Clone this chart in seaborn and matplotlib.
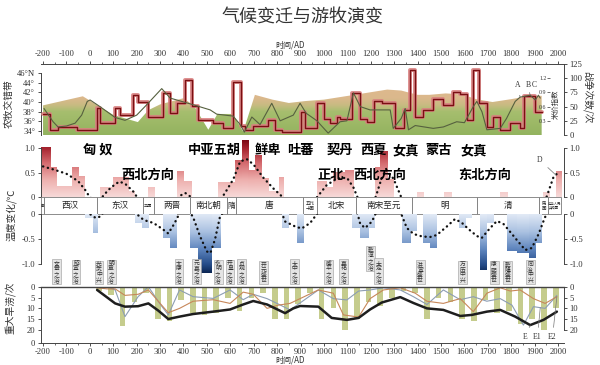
import numpy as np
import pandas as pd
import matplotlib
matplotlib.use("Agg")
import matplotlib.pyplot as plt
import seaborn as sns
from matplotlib import transforms
from matplotlib.colors import LinearSegmentedColormap

sns.set_theme(style="white")
plt.rcParams['font.family'] = ['Noto Sans CJK SC', 'DejaVu Sans']
plt.rcParams['axes.unicode_minus'] = False

# ---------------- data ----------------
# top panel: agro-pastoral belt (latitude envelope)
area_year = [-200, -30, 100, 205, 250, 300, 400, 445, 506, 545, 610, 655, 705, 780, 850, 920,
             1000, 1130, 1270, 1330, 1400, 1450, 1520, 1590, 1650, 1720, 1800, 1870, 1930]
area_lat = [39.3, 41.2, 37.3, 35.8, 38.3, 39.5, 40.8, 39.2, 34.2, 37.5, 37.5, 33.8, 41.5, 40.5, 39.8, 40.2,
            40.5, 41.5, 42.6, 42.4, 41.5, 41.5, 41.8, 41.6, 40.6, 40.0, 40.6, 41.2, 41.3]
lat_ticks = [34, 36, 38, 40, 42, 44, 46]
lat_labels = ['34°', '36°', '38°', '40°', '42°', '44°', '46°N']

# wars (step series)
war_start = [-200, -170, -136, -55, 31, 43, 108, 130, 185, 206, 250, 313, 343, 372, 407, 436, 462, 527, 570, 612,
             645, 663, 697, 762, 791, 820, 900, 918, 970, 1001, 1027, 1055, 1069, 1119, 1155, 1183, 1212, 1247, 1304, 1340,
             1368, 1390, 1424, 1467, 1510, 1553, 1582, 1610, 1638, 1662, 1696, 1724, 1753, 1796, 1838, 1856, 1903]
war_val = [37, 8, 14, 8, 48, 22, 47, 35, 70, 58, 32, 74, 39, 56, 97, 51, 26, 21, 12, 93,
           15, 9, 15, 26, 9, 6, 40, 12, 56, 29, 21, 32, 28, 74, 29, 23, 60, 56, 12, 44,
           114, 32, 44, 63, 53, 76, 73, 26, 114, 56, 14, 31, 9, 22, 12, 68, 40]
war_end = 1930
war_ticks = [0, 25, 50, 75, 100, 125]

# rice price index
rice_year = [-196, -157, -136, -100, -63, -35, -11, 1, 43, 108, 150, 200, 243, 307, 343, 441, 514, 542, 612, 642,
             660, 692, 727, 777, 813, 869, 898, 924, 970, 1018, 1069, 1098, 1126, 1155, 1197, 1283, 1296, 1330, 1347, 1361,
             1390, 1467, 1510, 1567, 1600, 1638, 1653, 1675, 1696, 1753, 1780, 1817, 1838, 1881, 1903, 1916, 1924]
rice_idx = [0.56, 0.28, 0.17, 0.19, 0.25, 0.42, 0.71, 0.74, 0.60, 0.37, 0.31, 0.42, 0.64, 0.98, 0.78, 0.64, 0.53, 0.44, 0.40, 0.22,
            0.06, 0.38, 0.22, 0.67, 0.30, 0.42, 0.67, 0.46, 0.30, 0.04, 0.28, 0.30, 0.89, 0.60, 0.53, 0.53, 0.14, 0.35, 0.56, 0.11,
            0.20, 0.14, 0.17, 0.28, 0.26, 0.60, 0.71, 0.49, 0.11, 0.14, 0.35, 0.71, 0.80, 0.84, 0.74, 0.84, 0.78]
rice_ticks = [0.3, 0.6, 0.9, 1.2]
abc_labels = ['A', 'B', 'C']
abc_years = [1838, 1881, 1916]

# middle panel: temperature anomaly bars
pos_start = [-210, -170, -141, -77, -50, 43, 100, 165, 250, 371, 400, 549, 620, 649, 677, 706, 735, 763, 806,
             970, 1012, 1040, 1090, 1219, 1240, 1271, 1397, 1514, 1753, 1937, 1992]
pos_end = [-170, -141, -77, -50, -21, 100, 165, 193, 279, 400, 435, 620, 649, 677, 706, 735, 763, 806, 827,
           1012, 1040, 1090, 1126, 1240, 1271, 1297, 1425, 1547, 1783, 1963, 2017]
pos_val = [1.0, 0.6, 0.22, 0.6, 0.42, 0.2, 0.4, 0.12, 0.2, 0.52, 0.32, 0.3, 0.75, 1.15, 0.55, 0.85, 0.38, 0.12, 0.4,
           0.32, 0.2, 0.49, 0.55, 0.6, 0.92, 0.35, 0.1, 0.1, 0.1, 0.1, 0.53]
neg_start = [-20, 15, 193, 222, 314, 343, 428, 464, 521, 820, 884, 1119, 1155, 1190, 1333, 1368, 1425, 1454,
             1575, 1603, 1667, 1696, 1782, 1824, 1874, 1903]
neg_end = [15, 36, 222, 250, 343, 371, 464, 521, 556, 848, 912, 1155, 1190, 1219, 1368, 1397, 1454, 1482,
           1603, 1632, 1696, 1724, 1824, 1874, 1903, 1931]
neg_val = [-0.09, -0.39, -0.18, -0.28, -0.48, -0.68, -0.68, -1.19, -0.68, -0.29, -0.59, -0.29, -0.49, -0.29, -0.59, -0.35,
           -0.59, -0.68, -0.29, -0.09, -1.12, -0.19, -0.75, -0.78, -0.89, -0.59]
# smoothed temperature curve
temp_year = [-200, -150, -100, -50, -20, 0, 25, 45, 60, 90, 125, 150, 185, 205, 230, 272, 310, 335, 360, 385,
             407, 428, 440, 471, 500, 515, 535, 556, 575, 613, 642, 670, 699, 741, 784, 820, 834, 877, 905, 941,
             970, 1012, 1055, 1098, 1126, 1145, 1155, 1176, 1205, 1222, 1247, 1265, 1297, 1326, 1354, 1383, 1420, 1454, 1482, 1525,
             1560, 1590, 1617, 1653, 1674, 1710, 1739, 1767, 1796, 1824, 1860, 1888, 1917, 1938, 1952, 1981, 2005]
temp_smooth = [0.63, 0.56, 0.48, 0.33, 0.15, 0.0, -0.08, -0.05, 0.05, 0.2, 0.32, 0.28, 0.12, -0.02, -0.12, -0.18, -0.3, -0.39, -0.2, 0.03,
               0.09, 0.02, -0.05, -0.45, -0.75, -0.78, -0.5, -0.05, 0.07, 0.37, 0.73, 0.78, 0.67, 0.4, 0.18, 0.02, -0.15, -0.25, -0.29, -0.18,
               0.0, 0.25, 0.38, 0.4, 0.2, -0.02, -0.2, -0.28, -0.15, 0.02, 0.4, 0.56, 0.38, 0.05, -0.28, -0.4, -0.45, -0.46, -0.42, -0.25,
               -0.1, -0.18, -0.3, -0.44, -0.48, -0.28, -0.14, -0.2, -0.36, -0.52, -0.72, -0.68, -0.4, -0.14, 0.02, 0.42, 0.52]
temp_ticks_up = [0, 0.5, 1.0]
temp_ticks_lo = [-1.0, -0.5, 0]

# dynasties strip
dyn_edges = [-210, -196, 30, 225, 272, 428, 585, 625, 910, 972, 1135, 1378, 1655, 1920, 1955, 2012]
dyn_names = ['秦', '西汉', '东汉', '三国', '两晋', '南北朝', '隋', '唐', '五代\n十国', '北宋', '南宋至元', '明', '清',
             '民\n国', '中华人民\n共和国']

# nomadic peoples / directions
nomad_names = ['匈 奴', '中亚五胡', '鲜卑', '吐蕃', '契丹', '西夏', '女真', '蒙古', '女真']
nomad_years = [33, 531, 761, 898, 1069, 1212, 1349, 1490, 1640]
dir_names = ['西北方向', '正北', '西北方向', '东北方向']
dir_years = [247, 1029, 1238, 1689]

# prosperous eras
era_names = ['文景之治', '昭宣之治', '光武中兴', '明章之治', '太康之治', '元嘉之治', '永明之治', '开皇之治', '贞观之治',
             '开元盛世', '大中之治', '咸平之治', '嘉祐之治', '乾淳之治', '大定之治', '洪宣盛世', '万历中兴', '康熙盛世',
             '乾隆盛世', '同治中兴']
era_years = [-141, -59, 39, 91, 381, 457, 548, 599, 649, 741, 873, 1019, 1083, 1200, 1233, 1411, 1593, 1727, 1783, 1881]

# bottom panel: major droughts / floods
drought_year = [40, 90, 140, 190, 240, 290, 340, 390, 440, 490, 540, 590, 640, 690, 740, 790, 840, 890, 940, 990,
                1040, 1090, 1140, 1190, 1240, 1290, 1340, 1390, 1440, 1490, 1540, 1590, 1640, 1690, 1740, 1790, 1840, 1890, 1940, 1990]
drought_val = [2, 4, 18, 7, 3, 15, 16, 6, 12, 13, 12, 5, 11, 5, 3, 15, 15, 8, 3, 15,
               10, 20, 15, 7, 9, 5, 2, 3, 15, 5, 7, 15, 16, 6, 12, 11, 17, 15, 20, 10]
blk_year = [31, 108, 150, 206, 250, 292, 335, 383, 441, 527, 599, 655, 698, 757, 834, 869, 898, 976, 1033, 1098,
            1148, 1197, 1247, 1326, 1382, 1440, 1510, 1582, 1632, 1696, 1753, 1817, 1881, 1938, 1995]
blk_val = [1.5, 7.7, 9.2, 9.0, 7.7, 11, 14.9, 13.8, 12.6, 11.5, 10.5, 8.2, 6.6, 8.2, 12.2, 10, 8.9, 9.2, 14.4, 15.3,
           14.4, 10.5, 7.3, 4.8, 7.5, 10, 10.7, 13.5, 13, 11.5, 10.7, 13.8, 17.7, 15.3, 11.5]
brn_year = [31, 73, 108, 150, 206, 250, 335, 383, 441, 527, 599, 655, 698, 757, 805, 855, 898, 976, 1040, 1083,
            1148, 1197, 1254, 1326, 1390, 1440, 1510, 1582, 1638, 1696, 1753, 1796, 1838, 1895, 1945, 1995]
brn_val = [0.5, 1, 1, 4, 3.5, 1.5, 12, 10, 6.7, 6, 7.7, 2.5, 3.5, 10, 8.5, 7.7, 5.5, 1.5, 3, 13,
           14, 5.5, 1.5, 0.5, 3, 6.7, 7.7, 5.5, 11.5, 3, 0.5, 2, 1.5, 5.5, 7.7, 4.6]
gb_year = [31, 73, 108, 150, 206, 250, 300, 335, 383, 441, 527, 599, 655, 698, 757, 805, 855, 898, 976, 1040,
           1098, 1148, 1197, 1254, 1326, 1382, 1440, 1510, 1582, 1638, 1696, 1753, 1803, 1852, 1895, 1945, 1995]
gb_val = [0.5, 0, 1.5, 13.8, 4.6, 0, 8, 13, 1.5, 4.6, 5.4, 1.5, 6, 3.5, 5.5, 8, 10.7, 7.5, 1.5, 5.5,
          6.1, 2, 1.5, 0.5, 1.5, 4.6, 8.2, 1.5, 6, 4.6, 6.7, 5.5, 8.5, 17.7, 9.2, 10, 4]
dr_ticks = [0, 5, 10, 15, 20]

year_ticks = list(range(-200, 2001, 100))

# ---------------- layout ----------------
W_PX, H_PX = 600, 365
fig = plt.figure(figsize=(6, 3.65), dpi=100)
fig.patch.set_facecolor('white')
XL = (-210, 2025)
AX_L, AX_R = 40.7, 563.9
NUM = 'Liberation Serif'
TC = '#333333'
SPC = '#444444'


def box(top, bottom):
    return [AX_L / W_PX, 1 - bottom / H_PX, (AX_R - AX_L) / W_PX, (bottom - top) / H_PX]


def ticks(ax, **kw):
    ax.tick_params(direction='out', length=2.5, width=0.6, colors=TC, labelsize=6.2,
                   labelfontfamily=NUM, pad=1.5, **kw)


def spines(ax, show):
    for k, s in ax.spines.items():
        s.set_visible(k in show)
        s.set_linewidth(0.7)
        s.set_color(SPC)


# ---- top panel ----
ax1 = fig.add_axes(box(64, 135))
Y1 = (33.1, 47.95)
poly = ax1.fill_between(area_year, Y1[0], area_lat, facecolor='none', edgecolor='none')
area_cmap = LinearSegmentedColormap.from_list(
    'area', [(0, '#93b35f'), (0.33, '#a6be6e'), (0.42, '#c8bb82'), (0.52, '#dbb88c'), (1, '#e3bd92')])
grad = np.linspace(Y1[0], Y1[1], 200).reshape(-1, 1)
im = ax1.imshow(grad, extent=[XL[0], XL[1], Y1[0], Y1[1]], origin='lower', aspect='auto',
                cmap=area_cmap, vmin=Y1[0], vmax=Y1[1], zorder=1, interpolation='bilinear')
im.set_clip_path(poly.get_paths()[0], transform=ax1.transData)
ax1.set_xlim(XL)
ax1.set_ylim(Y1)
ax1.xaxis.tick_top()
ax1.set_xticks(year_ticks)
ax1.set_xticks(list(range(-200, 2001, 50)), minor=True)
ax1.set_yticks(lat_ticks)
ax1.set_yticklabels(lat_labels)
ticks(ax1, top=True, bottom=False, left=True, right=False, labeltop=True, labelbottom=False)
ax1.tick_params(which='minor', top=True, bottom=False, length=1.5, width=0.5, colors=TC)
spines(ax1, ['left', 'top'])
ax1.spines['left'].set_bounds(Y1[0], 46)
ax1.set_facecolor('none')

axw = ax1.twinx()
axw.set_ylim(0, 125)
wx = war_start + [war_end]
wy = war_val + [war_val[-1]]
sns.lineplot(x=wx, y=wy, drawstyle='steps-post', color='#d98080', lw=2.8, ax=axw,
             estimator=None, sort=False, alpha=0.9)
sns.lineplot(x=wx, y=wy, drawstyle='steps-post', color='#7a0f12', lw=1.0, ax=axw,
             estimator=None, sort=False)
axw.set_yticks(war_ticks)
ticks(axw, right=True, labelright=True, left=False, labelleft=False)
spines(axw, ['right'])
axw.set_xlabel('')
axw.set_ylabel('')

axi = ax1.twinx()
axi.set_ylim(0, 1.5)
sns.lineplot(x=rice_year, y=rice_idx, color='#56603f', lw=0.8, ax=axi, estimator=None, sort=False)
axi.yaxis.tick_left()
spines(axi, [])
axi.spines['left'].set_position(('axes', 0.974))
axi.set_yticks(rice_ticks)
axi.tick_params(direction='out', length=2, width=0.5, colors=TC, labelsize=4.2,
                labelfontfamily=NUM, pad=0.8, left=True, labelleft=True, right=False, labelright=False)
axi.set_xlabel('')
axi.set_ylabel('')
axi.set_xlim(XL)
for lab, yr, dx in zip(abc_labels, abc_years, [-12, -10, -16]):
    yv = np.interp(yr, rice_year, rice_idx)
    axi.annotate(lab, xy=(yr, yv), xytext=(yr + dx, 1.05), textcoords='data', fontsize=5.5,
                 family=NUM, color=TC, ha='center', va='center',
                 arrowprops=dict(arrowstyle='-', color='#666', lw=0.5, shrinkA=2, shrinkB=0))

# ---- middle panel: positive ----
red_cmap = LinearSegmentedColormap.from_list(
    'red', [(0, '#f7d9d8'), (0.3, '#eeb0ae'), (0.6, '#d46a6e'), (0.85, '#a82631'), (1, '#7d0a16')])
blue_cmap = LinearSegmentedColormap.from_list(
    'blue', [(0, '#e2eaf6'), (0.3, '#aac1e1'), (0.6, '#5d84bd'), (0.85, '#264d8a'), (1, '#0b2552')])

ax2 = fig.add_axes(box(138, 197.3))
bars = ax2.bar(pos_start, pos_val, width=np.array(pos_end) - np.array(pos_start), align='edge',
               color='none', edgecolor='none')
for p in bars.patches:
    x0, w, h = p.get_x(), p.get_width(), p.get_height()
    g = np.linspace(0, h, 64).reshape(-1, 1)
    ax2.imshow(g, extent=[x0, x0 + w, 0, h], origin='lower', aspect='auto', cmap=red_cmap,
               vmin=0, vmax=1.15, zorder=1.5, interpolation='bilinear')
sns.lineplot(x=temp_year, y=temp_smooth, color='#111111', lw=1.7, ax=ax2, estimator=None, sort=False,
             linestyle=(0, (0.1, 2.0)), dash_capstyle='round', zorder=3)
ax2.set_xlim(XL)
ax2.set_ylim(0, 1.21)
ax2.set_xticks([])
ax2.set_yticks(temp_ticks_up)
ax2.set_yticklabels(['0', '0.5', '1.0'])
ticks(ax2, left=True, right=True, labelleft=True, labelright=True, bottom=False)
spines(ax2, ['left', 'right'])
ax2.spines['left'].set_bounds(0, 1.0)
ax2.spines['right'].set_bounds(0, 1.0)
ax2.set_xlabel('')
ax2.set_ylabel('')
ax2.set_facecolor('none')
for nm, yr in zip(nomad_names, nomad_years):
    ax2.text(yr, 0.965, nm, fontsize=9.5, fontweight='bold', ha='center', va='center', color='black',
             zorder=6, clip_on=False)
for nm, yr in zip(dir_names, dir_years):
    ax2.text(yr, 0.455, nm, fontsize=9.5, fontweight='bold', ha='center', va='center', color='black',
             zorder=6, clip_on=False)
ax2.annotate('D', xy=(1990, np.interp(1990, temp_year, temp_smooth)), xytext=(1922, 0.76),
             fontsize=5.5, family=NUM, color=TC, ha='center', va='center',
             arrowprops=dict(arrowstyle='-', color='#888', lw=0.6, shrinkA=2, shrinkB=0))

# ---- dynasty strip ----
ax3 = fig.add_axes(box(197.3, 214))
ax3.bar(dyn_edges[:-1], 1, width=np.diff(dyn_edges), align='edge', color='white',
        edgecolor='#7a7a7a', lw=0.6, clip_on=False)
ax3.set_xlim(XL)
ax3.set_ylim(0, 1)
ax3.axis('off')
small = {'秦': 2.5, '三国': 3.0, '五代\n十国': 3.2, '民\n国': 3.2, '中华人民\n共和国': 2.4, '隋': 5.5}
for nm, a, b in zip(dyn_names, dyn_edges[:-1], dyn_edges[1:]):
    ax3.text((a + b) / 2, 0.5, nm, fontsize=small.get(nm, 6.2), ha='center', va='center',
             color='#222', linespacing=1.0)

# ---- middle panel: negative ----
ax4 = fig.add_axes(box(214, 275))
nbars = ax4.bar(neg_start, neg_val, width=np.array(neg_end) - np.array(neg_start), align='edge',
                color='none', edgecolor='none')
for p in nbars.patches:
    x0, w, h = p.get_x(), p.get_width(), p.get_height()
    g = np.linspace(-h, 0, 64).reshape(-1, 1)
    ax4.imshow(g, extent=[x0, x0 + w, h, 0], origin='lower', aspect='auto', cmap=blue_cmap,
               vmin=0, vmax=1.2, zorder=1.5, interpolation='bilinear')
sns.lineplot(x=temp_year, y=temp_smooth, color='#111111', lw=1.7, ax=ax4, estimator=None, sort=False,
             linestyle=(0, (0.1, 2.0)), dash_capstyle='round', zorder=3)
ax4.set_xlim(XL)
ax4.set_ylim(-1.22, 0)
ax4.set_xticks([])
ax4.set_yticks(temp_ticks_lo)
ax4.set_yticklabels(['-1.0', '-0.5', '0'])
ticks(ax4, left=True, right=True, labelleft=True, labelright=True, bottom=False)
spines(ax4, ['left', 'right'])
ax4.spines['left'].set_bounds(-1.0, 0)
ax4.spines['right'].set_bounds(-1.0, 0)
ax4.set_xlabel('')
ax4.set_ylabel('')
ax4.set_facecolor('none')

trans = transforms.blended_transform_factory(ax4.transData, fig.transFigure)
for nm, yr in zip(era_names, era_years):
    ybot = 1 - (270 if nm == '乾淳之治' else 283) / H_PX
    fig.text(yr, ybot, '\n'.join(nm), transform=trans, fontsize=4.2, ha='center', va='bottom',
             color='#333', linespacing=1.0,
             bbox=dict(boxstyle='square,pad=0.25', fc='#e4e4e4', ec='#9a9a9a', lw=0.4))

# ---- bottom panel ----
ax5 = fig.add_axes(box(286.7, 343.3))
ax5.bar(drought_year, drought_val, width=24, color='#c5cc8d', edgecolor='none', zorder=1)
sns.lineplot(x=gb_year, y=gb_val, color='#8c9db3', lw=0.8, ax=ax5, estimator=None, sort=False, zorder=2)
sns.lineplot(x=brn_year, y=brn_val, color='#c7875a', lw=0.8, ax=ax5, estimator=None, sort=False, zorder=2)
sns.lineplot(x=blk_year, y=blk_val, color='#1e1e1e', lw=1.8, ax=ax5, estimator=None, sort=False, zorder=3)
ax5.set_xlim(XL)
ax5.set_ylim(26.1, 0)
ax5.set_xticks(year_ticks)
ax5.set_xticks(list(range(-200, 2001, 50)), minor=True)
ax5.set_yticks(dr_ticks + [26.1])
ax5.set_yticklabels([str(t) for t in dr_ticks] + ['0'])
ticks(ax5, left=True, bottom=True, labelleft=True, labelbottom=True, right=False, top=False)
ax5.tick_params(axis='x', pad=0.8)
ax5.tick_params(which='minor', bottom=True, length=1.5, width=0.5, colors=TC)
spines(ax5, ['left', 'bottom', 'top'])
ax5.spines['top'].set_linewidth(1.0)
ax5.set_xlabel('')
ax5.set_ylabel('')
ax5.set_facecolor('none')

ax5r = ax5.twinx()
ax5r.set_ylim(26.1, 0)
ax5r.set_yticks(dr_ticks)
ticks(ax5r, right=True, labelright=True, left=False, labelleft=False)
spines(ax5r, ['right'])
ax5r.spines['right'].set_bounds(0, 20)

for lab, yr, tx, xs, ys in [('E', 1881, 1860, blk_year, blk_val),
                            ('E1', 1924, 1912, gb_year, gb_val),
                            ('E2', 1995, 1976, brn_year, brn_val)]:
    ax5.annotate(lab, xy=(yr, np.interp(yr, xs, ys)), xytext=(tx, 23.4), fontsize=5.5, family=NUM,
                 color=TC, ha='center', va='center',
                 arrowprops=dict(arrowstyle='-', color='#777', lw=0.5, shrinkA=2, shrinkB=0))

# ---- texts ----
fig.text(303 / W_PX, 1 - 18 / H_PX, '气候变迁与游牧演变', fontsize=13, ha='center', va='center', color='#333')
fig.text(290 / W_PX, 1 - 45 / H_PX, '时间/AD', fontsize=5.8, ha='center', va='center', color=TC)
fig.text(290 / W_PX, 1 - 360.5 / H_PX, '时间/AD', fontsize=5.8, ha='center', va='center', color=TC)
fig.text(9 / W_PX, 1 - 104 / H_PX, '农牧交错带', fontsize=7, rotation=90, ha='center', va='center', color=TC)
fig.text(11 / W_PX, 1 - 215 / H_PX, '温度变化/℃', fontsize=7, rotation=90, ha='center', va='center', color=TC)
fig.text(10 / W_PX, 1 - 308 / H_PX, '重大旱涝/次', fontsize=7, rotation=90, ha='center', va='center', color=TC)
fig.text(555.5 / W_PX, 1 - 104 / H_PX, '米价指数', fontsize=5.3, rotation=90, ha='center', va='center', color=TC)
fig.text(588 / W_PX, 1 - 97 / H_PX, '战争次数/次', fontsize=7, rotation=270, ha='center', va='center', color=TC)

fig.savefig('out.png', dpi=100)
